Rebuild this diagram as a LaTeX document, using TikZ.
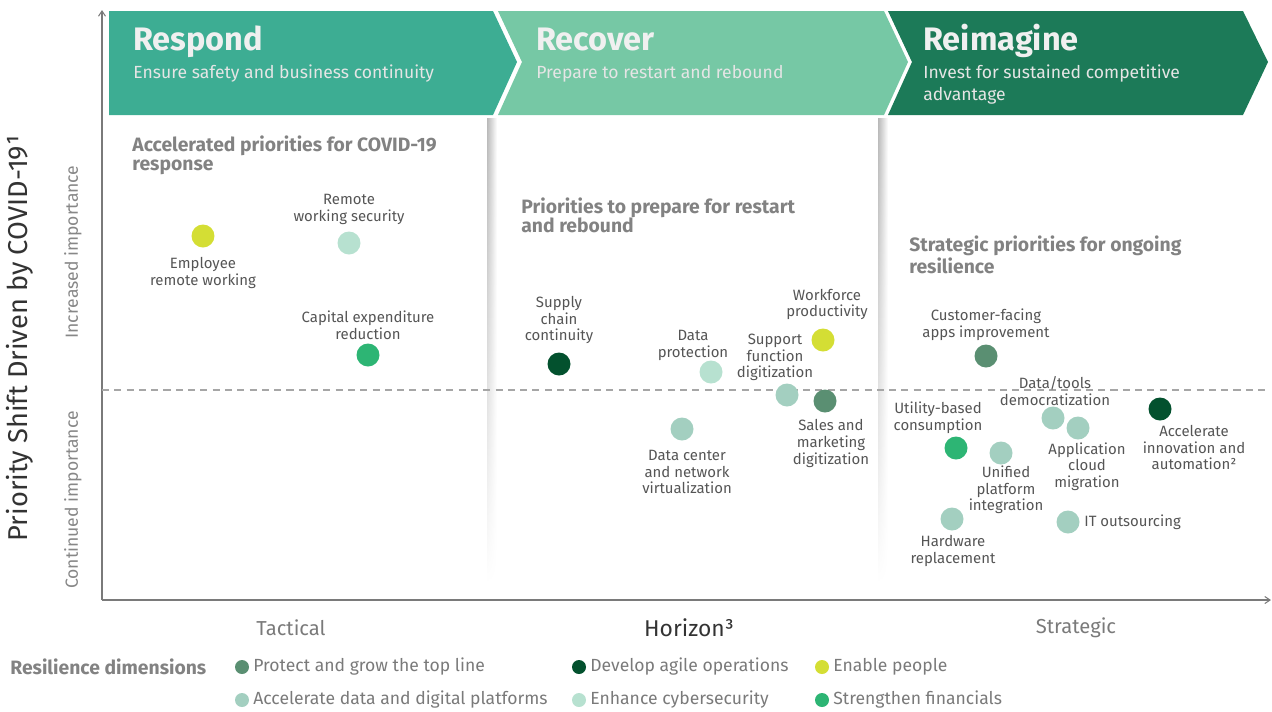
\documentclass[tikz,border=0pt]{standalone}
\usepackage{fontspec}
\setmainfont{Fira Sans}
\usetikzlibrary{arrows.meta,fadings}

\definecolor{respondc}{HTML}{3DAD93}
\definecolor{recoverc}{HTML}{76C8A5}
\definecolor{reimaginec}{HTML}{1C7A58}
\definecolor{topline}{HTML}{5A8F72}
\definecolor{agile}{HTML}{03512E}
\definecolor{people}{HTML}{D4DE34}
\definecolor{dataplat}{HTML}{A3CFC0}
\definecolor{cyber}{HTML}{B7E1D0}
\definecolor{finance}{HTML}{2DB574}
\definecolor{headgray}{HTML}{828282}
\definecolor{labelgray}{HTML}{555555}
\definecolor{axisgray}{HTML}{7A7A7A}

\begin{document}
\begin{tikzpicture}[x=0.02cm,y=-0.02cm,
  dot/.style={circle,inner sep=0pt,minimum size=0.46cm},
  keydot/.style={circle,inner sep=0pt,minimum size=0.28cm},
  lbl/.style={align=center,inner sep=0pt,text=labelgray,font=\fontsize{8.5}{9.5}\selectfont},
  heading/.style={anchor=west,align=left,inner sep=0pt,text=headgray,font=\fontsize{11}{11}\selectfont\bfseries},
  phase/.style={anchor=base west,inner sep=0pt,text=white!94!black,font=\fontsize{18.5}{20}\selectfont\bfseries},
  phasesub/.style={anchor=base west,align=left,inner sep=0pt,text=white!90!black,font=\fontsize{10}{12.5}\selectfont},
  keytext/.style={anchor=west,inner sep=0pt,text=axisgray,font=\fontsize{10}{11}\selectfont},
  sep/.style={left color=black!28,right color=white,path fading=south}]
\useasboundingbox (0,0) rectangle (1272,711);

% phase chevrons
\fill[respondc] (109,11) -- (493,11) -- (517,62) -- (493,115) -- (109,115) -- cycle;
\fill[recoverc] (498,11) -- (884,11) -- (908,62) -- (884,115) -- (498,115) -- (522,62) -- cycle;
\fill[reimaginec] (888,11) -- (1243,11) -- (1268,62) -- (1243,115) -- (888,115) -- (912,62) -- cycle;

\node[phase] (respond) at (133,50) {Respond};
\node[phasesub] (respondsub) at (133,78) {Ensure safety and business continuity};
\node[phase] (recover) at (536,50) {Recover};
\node[phasesub] (recoversub) at (536,78) {Prepare to restart and rebound};
\node[phase] (reimagine) at (923,50) {Reimagine};
\node[phasesub] (reimaginesub) at (923,100) {Invest for sustained competitive\\advantage};

% separators between the phases
\shade[sep] (487,118) rectangle (497,582);
\shade[sep] (878,118) rectangle (888,582);

% axes
\coordinate (origin) at (102,600);
\coordinate (ytop) at (102,10);
\coordinate (xend) at (1271,600);
\draw[axisgray,line width=0.6pt,-{Straight Barb[length=3pt,width=4pt]}] (origin) -- (ytop);
\draw[axisgray,line width=0.6pt,-{Straight Barb[length=3pt,width=4pt]}] (origin) -- (xend);
\coordinate (dashl) at (102,390);
\coordinate (dashr) at (1270,390);
\draw[black!35,line width=0.6pt,dash pattern=on 4pt off 3pt] (dashl) -- (dashr);

\node[rotate=90,text=black!80,font=\fontsize{15.5}{17}\selectfont] (ytitle) at (20,338) {Priority Shift Driven by COVID-19¹};
\node[rotate=90,text=axisgray!90,font=\fontsize{10}{12}\selectfont] (incr) at (73,252) {Increased importance};
\node[rotate=90,text=axisgray!90,font=\fontsize{10}{12}\selectfont] (cont) at (73,500) {Continued importance};
\node[text=axisgray,font=\fontsize{11.5}{13}\selectfont] (tactical) at (291,628) {Tactical};
\node[text=black!80,font=\fontsize{13}{15}\selectfont] (horizon) at (689,628) {Horizon³};
\node[text=axisgray,font=\fontsize{11.5}{13}\selectfont] (strategic) at (1076,628) {Strategic};

% section headings
\node[heading] (h1) at (132,155.5) {Accelerated priorities for COVID-19\\response};
\node[heading] (h2) at (521,215.5) {Priorities to prepare for restart\\and rebound};
\node[heading] (h3) at (909,254.5) {Strategic priorities for ongoing\\resilience};

% respond
\node[dot,fill=people] (emp) at (203,236) {};
\node[lbl] (emplbl) at (203,273) {Employee\\remote working};
\node[dot,fill=cyber] (rws) at (349,243) {};
\node[lbl] (rwslbl) at (349,209.5) {Remote\\working security};
\node[dot,fill=finance] (cap) at (368,355) {};
\node[lbl] (caplbl) at (368,325.5) {Capital expenditure\\reduction};

% recover
\node[dot,fill=agile] (scc) at (559,364) {};
\node[lbl] (scclbl) at (559,320) {Supply\\chain\\continuity};
\node[dot,fill=cyber] (dp) at (711,372) {};
\node[lbl] (dplbl) at (693,345.5) {Data\\protection};
\node[dot,fill=people] (wf) at (823,340) {};
\node[lbl] (wflbl) at (827,304.5) {Workforce\\productivity};
\node[dot,fill=dataplat] (sfd) at (787,395) {};
\node[lbl] (sfdlbl) at (775,357.5) {Support\\function\\digitization};
\node[dot,fill=topline] (smd) at (825,401) {};
\node[lbl] (smdlbl) at (831,443.5) {Sales and\\marketing\\digitization};
\node[dot,fill=dataplat] (dcn) at (682,429) {};
\node[lbl] (dcnlbl) at (687,472) {Data center\\and network\\virtualization};

% reimagine
\node[dot,fill=topline] (cfa) at (986,356) {};
\node[lbl] (cfalbl) at (986,324.5) {Customer-facing\\apps improvement};
\node[dot,fill=dataplat] (dtd) at (1053,418) {};
\node[lbl] (dtdlbl) at (1055,391) {Data/tools\\democratization};
\node[dot,fill=dataplat] (acm) at (1078,428) {};
\node[lbl] (acmlbl) at (1087,466.5) {Application\\cloud\\migration};
\node[dot,fill=finance] (ubc) at (956,448) {};
\node[lbl] (ubclbl) at (938,418) {Utility-based\\consumption};
\node[dot,fill=dataplat] (upi) at (1001,453) {};
\node[lbl] (upilbl) at (1006,490) {Unified\\platform\\integration};
\node[dot,fill=agile] (aia) at (1160,409) {};
\node[lbl] (aialbl) at (1194,447.5) {Accelerate\\innovation and\\automation²};
\node[dot,fill=dataplat] (hwr) at (952,519) {};
\node[lbl] (hwrlbl) at (953,551) {Hardware\\replacement};
\node[dot,fill=dataplat] (ito) at (1068,522) {};
\node[lbl,anchor=west] (itolbl) at (1084,522) {IT outsourcing};

% legend
\node[anchor=west,inner sep=0pt,text=headgray,font=\fontsize{11}{12}\selectfont\bfseries] (keytitle) at (10,667) {Resilience dimensions};
\node[keydot,fill=topline] (k1) at (242,667) {};
\node[keytext] (k1t) at (253,667) {Protect and grow the top line};
\node[keydot,fill=agile] (k2) at (579,667) {};
\node[keytext] (k2t) at (590,667) {Develop agile operations};
\node[keydot,fill=people] (k3) at (822,667) {};
\node[keytext] (k3t) at (833,667) {Enable people};
\node[keydot,fill=dataplat] (k4) at (242,700) {};
\node[keytext] (k4t) at (253,700) {Accelerate data and digital platforms};
\node[keydot,fill=cyber] (k5) at (579,700) {};
\node[keytext] (k5t) at (590,700) {Enhance cybersecurity};
\node[keydot,fill=finance] (k6) at (822,700) {};
\node[keytext] (k6t) at (833,700) {Strengthen financials};
\end{tikzpicture}
\end{document}
